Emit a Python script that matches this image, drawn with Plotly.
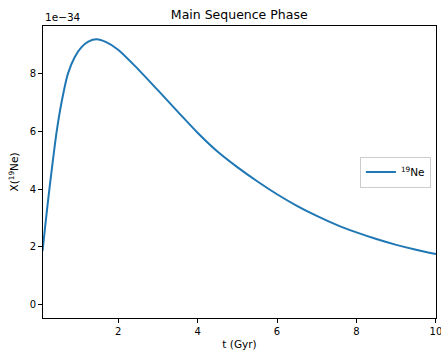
import plotly.graph_objects as go

t_gyr = [0.1, 0.11, 0.2, 0.28, 0.36, 0.45, 0.57, 0.74, 0.91, 1.08, 1.25, 1.46, 1.7,
         2.0, 2.5, 3.0, 3.5, 4.0, 4.5, 5.0, 5.5, 6.0, 6.5, 7.0, 7.5, 8.0, 8.5, 9.0, 9.5, 10.0]
x_ne19 = [1.86, 2.0, 3.15, 4.1, 5.0, 5.95, 6.95, 8.0, 8.57, 8.91, 9.1, 9.18, 9.08,
          8.82, 8.15, 7.42, 6.68, 5.95, 5.3, 4.76, 4.27, 3.82, 3.42, 3.07, 2.76, 2.5,
          2.27, 2.07, 1.9, 1.75]
scale = 1e-34
y_vals = [v * scale for v in x_ne19]
y_tickvals = [0, 2, 4, 6, 8]
x_tickvals = [2, 4, 6, 8, 10]

font = "DejaVu Sans, Arial, sans-serif"

fig = go.Figure()
fig.add_trace(go.Scatter(
    x=t_gyr, y=y_vals, mode="lines", name="<sup>19</sup>Ne",
    line=dict(color="#1f77b4", width=2, shape="spline", smoothing=0.8),
))

fig.update_layout(
    width=441, height=358,
    margin=dict(l=43, r=5, t=26, b=40),
    paper_bgcolor="white", plot_bgcolor="white",
    font=dict(family=font, size=10, color="black"),
    title=dict(text="Main Sequence Phase", x=0.5425, xanchor="center",
               y=0.958, yanchor="middle", font=dict(size=12.5, color="black")),
    showlegend=True,
    legend=dict(x=0.987, xanchor="right", y=0.5, yanchor="middle",
                bordercolor="#cccccc", borderwidth=1, bgcolor="white",
                font=dict(size=10.5), itemwidth=30),
    xaxis=dict(range=[0.11, 10.0005], tickvals=x_tickvals, ticktext=[str(v) for v in x_tickvals],
               showgrid=False, zeroline=False, showline=True, linecolor="black",
               linewidth=1, mirror=True, ticks="outside", ticklen=4, tickcolor="black",
               ticklabeloverflow="allow", automargin=False,
               title=dict(text="t (Gyr)", standoff=4, font=dict(size=10.5))),
    yaxis=dict(range=[-0.46 * scale, 9.64 * scale],
               tickvals=[v * scale for v in y_tickvals], ticktext=[str(v) for v in y_tickvals],
               showgrid=False, zeroline=False, showline=True, linecolor="black",
               linewidth=1, mirror=True, ticks="outside", ticklen=4, tickcolor="black",
               title=dict(text="X(<sup>19</sup>Ne)", standoff=8, font=dict(size=10.5))),
    annotations=[dict(text="1e\u221234", xref="paper", yref="paper", x=0, y=1,
                      xanchor="left", yanchor="bottom", showarrow=False, yshift=1,
                      font=dict(size=10.5))],
)

fig.write_html("out.html")
